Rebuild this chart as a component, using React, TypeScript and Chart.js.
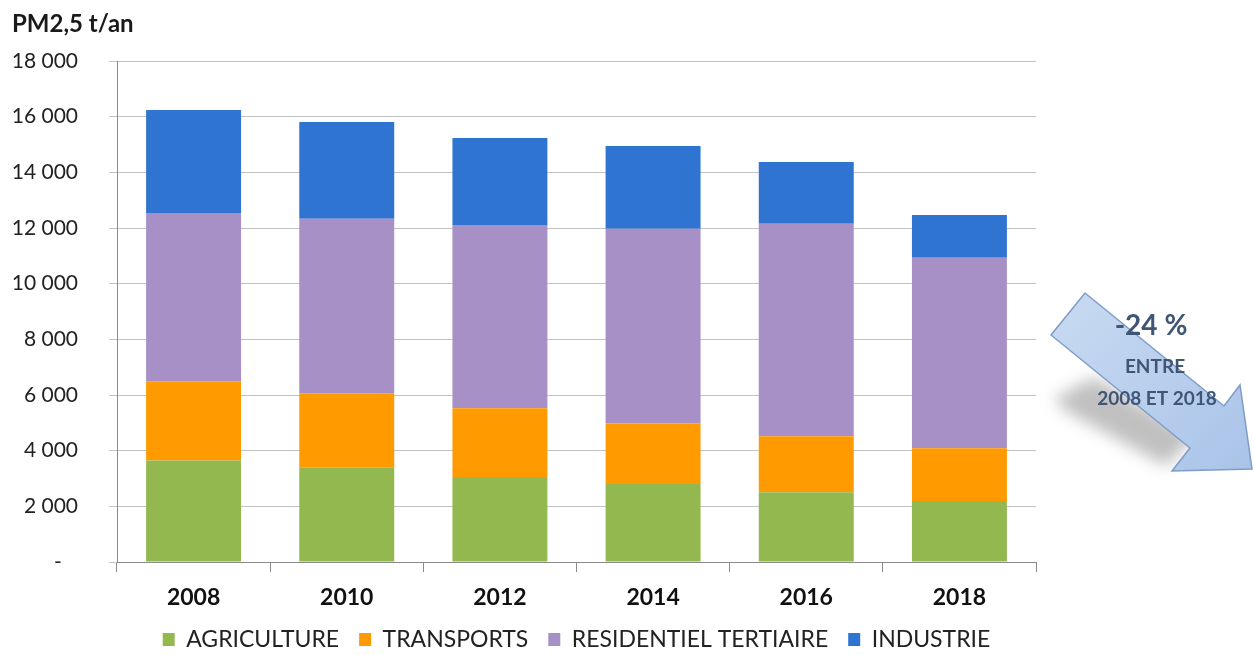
import React, { useEffect, useRef } from "react";
import { Chart, registerables } from "chart.js";

Chart.register(...registerables);

const years = ["2008", "2010", "2012", "2014", "2016", "2018"];
const agriculture = [3650, 3400, 3050, 2800, 2510, 2190];
const transports = [2840, 2660, 2470, 2180, 2010, 1900];
const residentiel = [6050, 6270, 6590, 6990, 7630, 6840];
const industrie = [3700, 3480, 3120, 2980, 2220, 1540];
const seriesNames = ["AGRICULTURE", "TRANSPORTS", "RESIDENTIEL TERTIAIRE", "INDUSTRIE"];
const yTickValues = [0, 2000, 4000, 6000, 8000, 10000, 12000, 14000, 16000, 18000];
const yTickLabels = ["-   ", "2 000", "4 000", "6 000", "8 000", "10 000", "12 000", "14 000", "16 000", "18 000"];
const yTitle = "PM2,5 t/an";
const arrowBig = "-24 %";
const arrowLine1 = "ENTRE";
const arrowLine2 = "2008 ET 2018";

const FONT = "Lato, 'Open Sans', sans-serif";

const overlayPlugin = {
  id: "overlay",
  afterDraw(chart: any) {
    const ctx = chart.ctx as CanvasRenderingContext2D;
    const ca = chart.chartArea;
    // title
    ctx.save();
    ctx.fillStyle = "#1a1a1a";
    ctx.font = `bold 24px ${FONT}`;
    ctx.textAlign = "left";
    ctx.textBaseline = "middle";
    ctx.fillText(yTitle, 12, 24);
    ctx.restore();

    // arrow annotation, positioned relative to the right of the plot area
    const ox = ca.right;
    const oy = ca.top;
    const P = (x: number, y: number): [number, number] => [ox + x, oy + y];
    // shadow
    ctx.save();
    ctx.filter = "blur(8px)";
    ctx.fillStyle = "rgba(150,150,150,0.6)";
    ctx.beginPath();
    const sh = [P(18, 338), P(58, 316), P(160, 375), P(130, 405), P(30, 350)];
    ctx.moveTo(sh[0][0], sh[0][1]);
    sh.slice(1).forEach((p) => ctx.lineTo(p[0], p[1]));
    ctx.closePath();
    ctx.fill();
    ctx.restore();

    ctx.save();
    const pts = [
      P(49, 232),
      P(188, 345),
      P(204, 324),
      P(216, 408),
      P(136, 410),
      P(154, 387),
      P(15, 274),
    ];
    const g = ctx.createLinearGradient(ox + 15, oy + 232, ox + 216, oy + 410);
    g.addColorStop(0, "#c9dbf2");
    g.addColorStop(1, "#a9c3e8");
    ctx.fillStyle = g;
    ctx.strokeStyle = "#7f9bc8";
    ctx.lineWidth = 1.5;
    ctx.beginPath();
    ctx.moveTo(pts[0][0], pts[0][1]);
    pts.slice(1).forEach((p) => ctx.lineTo(p[0], p[1]));
    ctx.closePath();
    ctx.fill();
    ctx.stroke();

    ctx.fillStyle = "#3f5676";
    ctx.textAlign = "center";
    ctx.textBaseline = "middle";
    ctx.font = `bold 28px ${FONT}`;
    ctx.fillText(arrowBig, ox + 115, oy + 265);
    ctx.font = `bold 19px ${FONT}`;
    ctx.fillText(arrowLine1, ox + 119, oy + 306);
    ctx.fillText(arrowLine2, ox + 121, oy + 338);
    ctx.restore();
  },
};

export default function App() {
  const ref = useRef<HTMLCanvasElement | null>(null);
  useEffect(() => {
    if (!ref.current) return;
    const colors = ["#93b84f", "#ff9b00", "#a690c6", "#2f74d0"];
    const data = [agriculture, transports, residentiel, industrie];
    const chart = new Chart(ref.current, {
      type: "bar",
      data: {
        labels: years,
        datasets: seriesNames.map((name, i) => ({
          label: name,
          data: data[i],
          backgroundColor: colors[i],
          borderWidth: 0,
          categoryPercentage: 1,
          barPercentage: 0.62,
        })),
      },
      options: {
        responsive: false,
        animation: false,
        layout: { padding: { top: 61, right: 218, left: 4, bottom: -6 } },
        plugins: {
          tooltip: { enabled: false },
          title: { display: false },
          legend: {
            position: "bottom",
            fullSize: false,
            labels: {
              boxWidth: 12,
              boxHeight: 13,
              padding: 20,
              color: "#222",
              font: { family: FONT, size: 23 },
            },
          },
        },
        scales: {
          x: {
            stacked: true,
            afterFit: (axis: any) => {
              axis.height = 46;
            },
            grid: {
              offset: true,
              drawOnChartArea: false,
              drawTicks: true,
              tickLength: 10,
              color: "#8a8a8a",
            },
            border: { color: "#8a8a8a" },
            ticks: {
              color: "#111",
              padding: 12,
              font: { family: FONT, size: 23, weight: "bold" },
            },
          },
          y: {
            stacked: true,
            min: 0,
            max: 18000,
            afterBuildTicks: (axis: any) => {
              axis.ticks = yTickValues.map((v) => ({ value: v }));
            },
            afterFit: (axis: any) => {
              axis.width = 113;
            },
            grid: { color: "#c2c2c2", tickLength: 8 },
            border: { color: "#8a8a8a" },
            ticks: {
              color: "#222",
              padding: 31,
              font: { family: FONT, size: 21 },
              callback: (v: any) => {
                const idx = yTickValues.indexOf(Number(v));
                return idx >= 0 ? yTickLabels[idx] : "";
              },
            },
          },
        },
      },
      plugins: [overlayPlugin],
    });
    return () => chart.destroy();
  }, []);
  return (
    <div style={{ position: "fixed", left: 0, top: 0, width: 1254, height: 655, background: "#fff" }}>
      <canvas ref={ref} width={1254} height={655} style={{ display: "block" }} />
    </div>
  );
}
